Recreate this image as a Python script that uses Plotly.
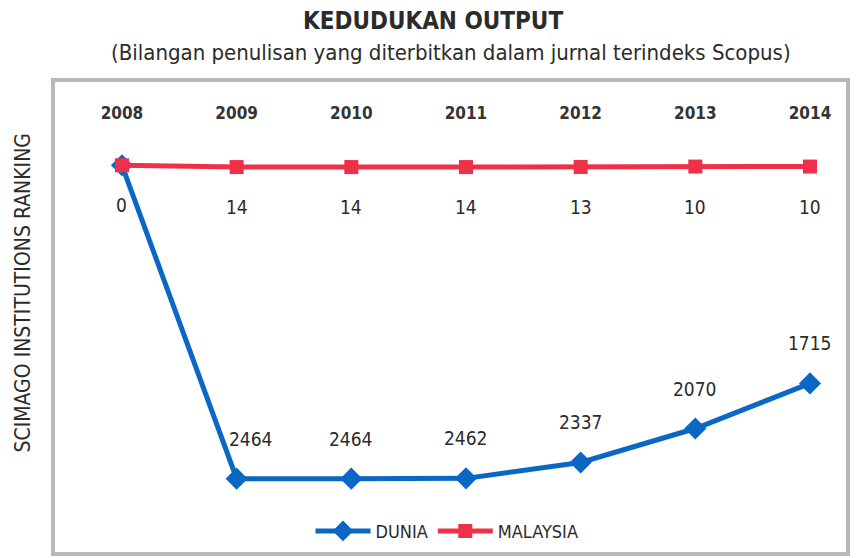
import plotly.graph_objects as go

years = [2008, 2009, 2010, 2011, 2012, 2013, 2014]
dunia = [0, 2464, 2464, 2462, 2337, 2070, 1715]
malaysia = [0, 14, 14, 14, 13, 10, 10]
dunia_labels = ["", "2464", "2464", "2462", "2337", "2070", "1715"]
malaysia_labels = ["0", "14", "14", "14", "13", "10", "10"]

BLUE = "#0a68c4"
RED = "#ef3049"
TXT = "#2b2b2b"
FONT = "Liberation Sans Narrow, DejaVu Sans Condensed, Arial Narrow, sans-serif"

fig = go.Figure()
fig.add_trace(go.Scatter(
    x=years, y=dunia, name="DUNIA", mode="lines+markers",
    line=dict(color=BLUE, width=5),
    marker=dict(symbol="diamond", size=17, color=BLUE),
))
fig.add_trace(go.Scatter(
    x=years, y=malaysia, name="MALAYSIA", mode="lines+markers",
    line=dict(color=RED, width=5),
    marker=dict(symbol="square", size=14, color=RED),
))

annotations = []
for xv, yv, t in zip(years, dunia, dunia_labels):
    if t:
        annotations.append(dict(x=xv, y=yv, text=t, showarrow=False,
                                yshift=40, xshift=14 if xv == 2009 else 0,
                                font=dict(family=FONT, size=19, color=TXT)))
for xv, yv, t in zip(years, malaysia, malaysia_labels):
    annotations.append(dict(x=xv, y=yv, text=t, showarrow=False,
                            yshift=-40,
                            font=dict(family=FONT, size=19, color=TXT)))

annotations.append(dict(xref="paper", yref="paper", x=-33 / 791, y=0.55,
                        text="SCIMAGO INSTITUTIONS RANKING", textangle=-90,
                        showarrow=False, xanchor="center", yanchor="middle",
                        font=dict(family=FONT, size=21, color=TXT)))
annotations.append(dict(xref="paper", yref="paper", x=(433 - 55) / 791, y=1 + (82 - 20) / 474,
                        text="<b>KEDUDUKAN OUTPUT</b>", showarrow=False,
                        xanchor="center", yanchor="middle",
                        font=dict(family=FONT, size=24, color=TXT)))
annotations.append(dict(xref="paper", yref="paper", x=(451 - 55) / 791, y=1 + (82 - 52) / 474,
                        text="(Bilangan penulisan yang diterbitkan dalam jurnal terindeks Scopus)",
                        showarrow=False, xanchor="center", yanchor="middle",
                        font=dict(family=FONT, size=22, color=TXT)))

fig.update_layout(
    width=868, height=558,
    margin=dict(l=55, r=22, t=82, b=2),
    paper_bgcolor="white", plot_bgcolor="white",
    showlegend=True,
    legend=dict(orientation="h", x=(447 - 55) / 791, y=(556 - 535) / 474,
                xanchor="center", yanchor="middle",
                font=dict(family=FONT, size=18, color=TXT),
                itemwidth=55, bgcolor="rgba(0,0,0,0)"),
    annotations=annotations,
    xaxis=dict(range=[2007.416, 2014.314], side="top", tickmode="array",
               tickvals=years, ticktext=[str(y) for y in years],
               ticklabelposition="inside", ticks="inside", ticklen=26,
               tickcolor="rgba(0,0,0,0)",
               tickfont=dict(family=FONT, size=17, color="#333333", weight="bold"),
               showgrid=False, zeroline=False,
               showline=True, mirror=True, linecolor="#b8b8b8", linewidth=4),
    yaxis=dict(range=[3041, -655], showticklabels=False, ticks="",
               showgrid=False, zeroline=False,
               showline=True, mirror=True, linecolor="#b8b8b8", linewidth=4),
)

fig.write_html("out.html")
